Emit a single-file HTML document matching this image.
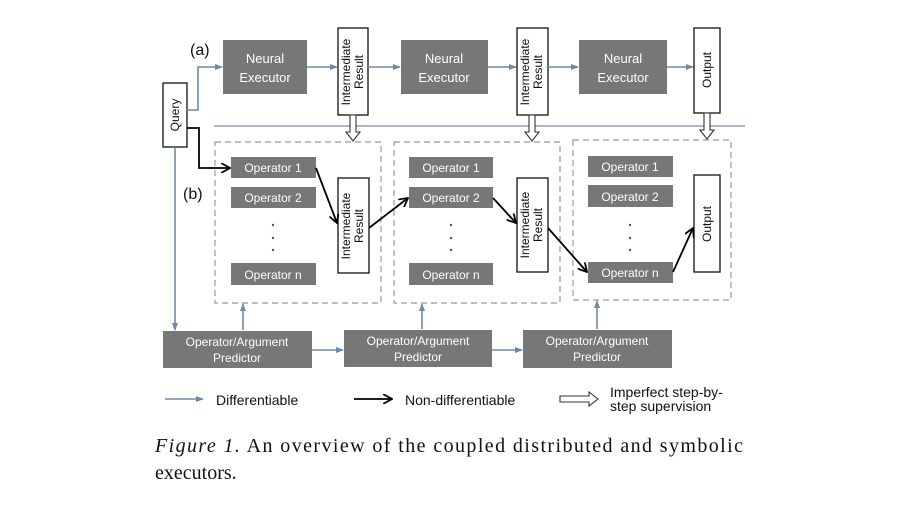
<!DOCTYPE html>
<html><head><style>
body{margin:0;background:#fff;}
svg{display:block}
.g{fill:#777}
.w{fill:#fff;font-family:"Liberation Sans",sans-serif;font-size:13px;text-anchor:middle}
.k{fill:#111;font-family:"Liberation Sans",sans-serif;font-size:12px;text-anchor:middle}
</style></head><body>
<svg width="900" height="506" viewBox="0 0 900 506" xmlns="http://www.w3.org/2000/svg">
<defs>
<marker id="b" markerWidth="8" markerHeight="8" refX="7" refY="4" orient="auto" markerUnits="userSpaceOnUse"><path d="M0,1 L8,4 L0,7 Z" fill="#6f8aa6"/></marker>
<marker id="k" markerWidth="10" markerHeight="10" refX="9" refY="5" orient="auto" markerUnits="userSpaceOnUse"><path d="M0,0 L9,5 L0,10" fill="none" stroke="#000" stroke-width="1.8"/></marker>
</defs>
<rect width="900" height="506" fill="#fff"/>
<text x="190" y="55" font-family="Liberation Sans,sans-serif" font-size="16" fill="#111">(a)</text>
<text x="183" y="199" font-family="Liberation Sans,sans-serif" font-size="16" fill="#111">(b)</text>
<!-- neural executors -->
<rect class="g" x="223" y="40" width="84" height="54"/><text class="w" x="265" y="63">Neural</text><text class="w" x="265" y="82">Executor</text>
<rect class="g" x="401" y="40" width="87" height="54"/><text class="w" x="444" y="63">Neural</text><text class="w" x="444" y="82">Executor</text>
<rect class="g" x="579" y="40" width="88" height="54"/><text class="w" x="623" y="63">Neural</text><text class="w" x="623" y="82">Executor</text>
<!-- top vertical boxes -->
<g fill="#fff" stroke="#111" stroke-width="1.3">
<rect x="338" y="28" width="30" height="87"/><rect x="517" y="28" width="31" height="87"/><rect x="694" y="28" width="26" height="85"/>
<rect x="163" y="83" width="24" height="64"/>
<rect x="338" y="178" width="31" height="95"/><rect x="517" y="178" width="31" height="94"/><rect x="694" y="175" width="26" height="97"/>
</g>
<text class="k" transform="translate(350,72) rotate(-90)">Intermediate</text><text class="k" transform="translate(363,72) rotate(-90)">Result</text>
<text class="k" transform="translate(529,72) rotate(-90)">Intermediate</text><text class="k" transform="translate(542,72) rotate(-90)">Result</text>
<text class="k" transform="translate(711,70) rotate(-90)">Output</text>
<text class="k" transform="translate(179,115) rotate(-90)">Query</text>
<text class="k" transform="translate(350,226) rotate(-90)">Intermediate</text><text class="k" transform="translate(363,226) rotate(-90)">Result</text>
<text class="k" transform="translate(529,225) rotate(-90)">Intermediate</text><text class="k" transform="translate(542,225) rotate(-90)">Result</text>
<text class="k" transform="translate(711,224) rotate(-90)">Output</text>
<line x1="214" y1="126" x2="745" y2="126" stroke="#7a8ea3" stroke-width="1.3"/>
<!-- dashed boxes -->
<g fill="none" stroke="#999" stroke-dasharray="6,4" stroke-width="1.2">
<rect x="215" y="142" width="166" height="161"/><rect x="394" y="142" width="166" height="161"/><rect x="573" y="140" width="158" height="160"/>
</g>
<!-- operators -->
<g class="g">
<rect x="231" y="157" width="85" height="21"/><rect x="231" y="187" width="85" height="21"/><rect x="231" y="263" width="85" height="22"/>
<rect x="409" y="157" width="84" height="21"/><rect x="409" y="187" width="84" height="21"/><rect x="409" y="263" width="84" height="22"/>
<rect x="588" y="156" width="85" height="21"/><rect x="588" y="185" width="85" height="22"/><rect x="588" y="262" width="85" height="21"/>
</g>
<g class="w" style="font-size:12px">
<text x="273" y="172">Operator 1</text><text x="273" y="202">Operator 2</text><text x="273" y="279">Operator n</text>
<text x="451" y="172">Operator 1</text><text x="451" y="202">Operator 2</text><text x="451" y="279">Operator n</text>
<text x="630" y="171">Operator 1</text><text x="630" y="201">Operator 2</text><text x="630" y="277">Operator n</text>
</g>
<g fill="#555">
<circle cx="273" cy="225" r="1.2"/><circle cx="273" cy="238" r="1.2"/><circle cx="273" cy="250" r="1.2"/>
<circle cx="451" cy="225" r="1.2"/><circle cx="451" cy="238" r="1.2"/><circle cx="451" cy="250" r="1.2"/>
<circle cx="630" cy="225" r="1.2"/><circle cx="630" cy="238" r="1.2"/><circle cx="630" cy="250" r="1.2"/>
</g>
<!-- predictors -->
<rect class="g" x="163" y="331" width="149" height="37"/><text class="w" x="237" y="346" style="font-size:12px">Operator/Argument</text><text class="w" x="237" y="362" style="font-size:12px">Predictor</text>
<rect class="g" x="344" y="330" width="148" height="37"/><text class="w" x="418" y="345" style="font-size:12px">Operator/Argument</text><text class="w" x="418" y="361" style="font-size:12px">Predictor</text>
<rect class="g" x="523" y="330" width="149" height="38"/><text class="w" x="597" y="345" style="font-size:12px">Operator/Argument</text><text class="w" x="597" y="361" style="font-size:12px">Predictor</text>
<!-- blue arrows -->
<g stroke="#6f8aa6" stroke-width="1.6" fill="none" marker-end="url(#b)">
<polyline points="187,110 198,110 198,67 222,67"/>
<line x1="307" y1="67" x2="337" y2="67"/><line x1="368" y1="67" x2="400" y2="67"/>
<line x1="488" y1="67" x2="516" y2="67"/><line x1="548" y1="67" x2="578" y2="67"/>
<line x1="667" y1="67" x2="693" y2="67"/>
<line x1="175" y1="147" x2="175" y2="330"/>
<line x1="243" y1="330" x2="243" y2="304"/><line x1="422" y1="329" x2="422" y2="304"/><line x1="597" y1="329" x2="597" y2="301"/>
<line x1="312" y1="350" x2="343" y2="350"/><line x1="492" y1="350" x2="522" y2="350"/>
<line x1="165" y1="399" x2="203" y2="399"/>
</g>
<!-- black arrows -->
<g stroke="#000" stroke-width="1.8" fill="none" marker-end="url(#k)">
<polyline points="187,128 199,128 199,168 230,168"/>
<line x1="316" y1="168" x2="337" y2="223"/>
<line x1="369" y1="228" x2="408" y2="198"/>
<line x1="493" y1="198" x2="516" y2="223"/>
<line x1="548" y1="228" x2="587" y2="272"/>
<line x1="673" y1="272" x2="693" y2="228"/>
<line x1="354" y1="399" x2="392" y2="399"/>
</g>
<!-- hollow arrows -->
<g fill="#fff" stroke="#333" stroke-width="1.1">
<path d="M350,115 h6 v17 h4 l-7,9 l-7,-9 h4 z"/>
<path d="M529,115 h6 v17 h4 l-7,9 l-7,-9 h4 z"/>
<path d="M704,113 h6 v17 h4 l-7,9 l-7,-9 h4 z"/>
<path d="M560,396 h29 v-4 l9,7 l-9,7 v-4 h-29 z"/>
</g>
<g font-family="Liberation Sans,sans-serif" font-size="14" fill="#111">
<text x="216" y="405">Differentiable</text>
<text x="405" y="405">Non-differentiable</text>
<text x="610" y="397">Imperfect step-by-</text>
<text x="610" y="411">step supervision</text>
</g>
<g font-family="Liberation Serif,serif" font-size="20" fill="#111">
<text x="155" y="452" textLength="588" lengthAdjust="spacing"><tspan font-style="italic">Figure 1.</tspan> An overview of the coupled distributed and symbolic</text>
<text x="155" y="479">executors.</text>
</g>
</svg>
</body></html>
